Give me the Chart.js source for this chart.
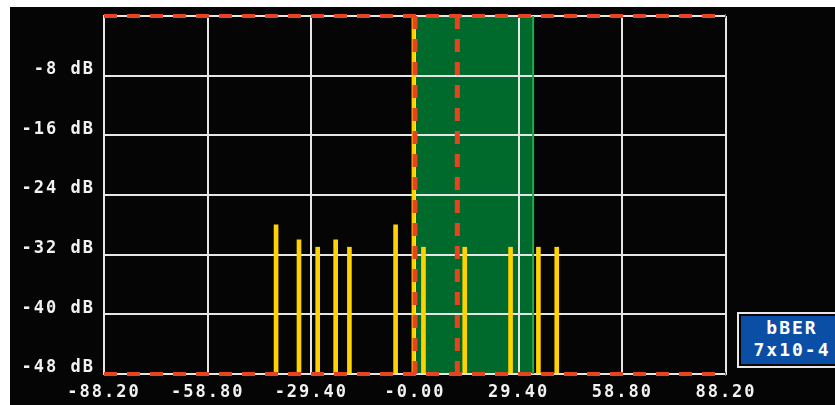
<!DOCTYPE html>
<html>
<head>
<meta charset="utf-8">
<script src="https://cdn.jsdelivr.net/npm/chart.js@4/dist/chart.umd.min.js"></script>
<style>
  html, body { margin: 0; padding: 0; background: #ffffff; overflow: hidden; }
  #frame { position: absolute; left: 10px; top: 7px; width: 825px; height: 398px; background: #050505; }
  #spectrum { display: block; }
  #ber {
    position: absolute; left: 737px; top: 312px; width: 110px; height: 52px;
    border: 2px solid #e8e8e8; background: #050505;
  }
  #ber div {
    position: absolute; left: 2px; top: 2px; right: 0; bottom: 2px;
    background: #0b4ea6; color: #ffffff;
    font-family: "DejaVu Sans Mono", monospace; font-weight: bold; font-size: 18px;
    letter-spacing: 2px; line-height: 22px; text-align: center; padding-top: 1px;
    padding-right: 6px; box-sizing: border-box;
  }
</style>
</head>
<body>
<div id="frame"><canvas id="spectrum" width="825" height="398"></canvas></div>
<div id="ber"><div>bBER<br>7x10-4</div></div>
<script>
// Frequency axis ticks (kHz offset) and their printed labels
const xTickValues = [-88.2, -58.8, -29.4, 0, 29.4, 58.8, 88.2];
const xTickLabels = ['-88.20', '-58.80', '-29.40', '-0.00', '29.40', '58.80', '88.20'];

// Level axis (dB)
const levelMin = -48;
const levelMax = 0;
const levelStep = 8;

// Spectral tones: frequency offsets and levels
const toneFreqs  = [-39.4, -32.9, -27.6, -22.5, -18.6, -5.5, 2.4, 14.1, 27.1, 35.0, 40.2];
const toneLevels = [-28, -30, -31, -30, -31, -28, -31, -31, -31, -31, -31];

// Passband shaded region and its edge
const passband = [0, 33.5];

// Carrier line and dashed marker lines
const carrierFreq = -0.4;
const markerFreqs = [0, 12];

const RED = '#e8431f';
const YELLOW = '#ffd200';
const GRID = '#e6e6e6';

function vLine(xv, color, width, dash) {
  return {
    type: 'line',
    data: [{ x: xv, y: levelMax }, { x: xv, y: levelMin }],
    borderColor: color, borderWidth: width, borderDash: dash || [],
    pointRadius: 0, fill: false, tension: 0, clip: false
  };
}
function hLine(yv, color, width, dash) {
  return {
    type: 'line',
    data: [{ x: xTickValues[0], y: yv }, { x: xTickValues[xTickValues.length - 1], y: yv }],
    borderColor: color, borderWidth: width, borderDash: dash || [],
    pointRadius: 0, fill: false, tension: 0, clip: false
  };
}

const dash = [13, 10];
const datasets = [];
// first entries are drawn on top
markerFreqs.forEach(f => datasets.push(vLine(f, RED, 5, dash)));
datasets.push(hLine(levelMax, RED, 4, dash));
datasets.push(hLine(levelMin, RED, 4, dash));
datasets.push(vLine(carrierFreq, YELLOW, 4));
datasets.push(vLine(passband[1], '#25a84a', 2));
datasets.push({
  type: 'bar',
  data: toneFreqs.map((f, i) => ({ x: f, y: toneLevels[i] })),
  base: levelMin,
  backgroundColor: YELLOW,
  borderWidth: 0,
  barThickness: 4,
  grouped: false
});

// Shaded passband, painted under the grid
const passbandPlugin = {
  id: 'passband',
  beforeDraw(chart) {
    const { ctx, scales: { x, y } } = chart;
    ctx.letterSpacing = '2px';
    const x0 = x.getPixelForValue(passband[0]);
    const x1 = x.getPixelForValue(passband[1]);
    const y0 = y.getPixelForValue(levelMax);
    const y1 = y.getPixelForValue(levelMin);
    ctx.save();
    ctx.fillStyle = '#006a2c';
    ctx.fillRect(x0, y0, x1 - x0, y1 - y0);
    ctx.restore();
  },
  beforeUpdate(chart) { chart.ctx.letterSpacing = '2px'; }
};

const tickFont = { family: 'DejaVu Sans Mono', weight: 'bold', size: 17 };

new Chart(document.getElementById('spectrum'), {
  type: 'bar',
  data: { datasets },
  plugins: [passbandPlugin],
  options: {
    responsive: false,
    animation: false,
    devicePixelRatio: 1,
    layout: { padding: { top: 9, right: 109, left: 0, bottom: 0 } },
    plugins: { legend: { display: false }, tooltip: { enabled: false } },
    scales: {
      x: {
        type: 'linear',
        min: xTickValues[0],
        max: xTickValues[xTickValues.length - 1],
        offset: false,
        afterBuildTicks(scale) { scale.ticks = xTickValues.map(v => ({ value: v })); },
        afterFit(scale) { scale.height = 31; scale.paddingLeft = 0; scale.paddingRight = 0; },
        grid: { color: GRID, lineWidth: 2, drawTicks: false, offset: false },
        border: { color: GRID, width: 2 },
        ticks: {
          color: '#f2f2f2', font: tickFont, padding: 8, maxRotation: 0, autoSkip: false,
          callback: (v, i) => xTickLabels[i]
        }
      },
      y: {
        type: 'linear',
        min: levelMin,
        max: levelMax,
        afterFit(scale) { scale.width = 94; scale.paddingTop = 0; scale.paddingBottom = 0; },
        grid: { color: GRID, lineWidth: 2, drawTicks: false },
        border: { color: GRID, width: 2 },
        ticks: {
          stepSize: levelStep, color: '#f2f2f2', font: tickFont, padding: 9,
          labelOffset: -6,
          callback: v => (v === levelMax ? '' : v + ' dB')
        }
      }
    }
  }
});
</script>
</body>
</html>
